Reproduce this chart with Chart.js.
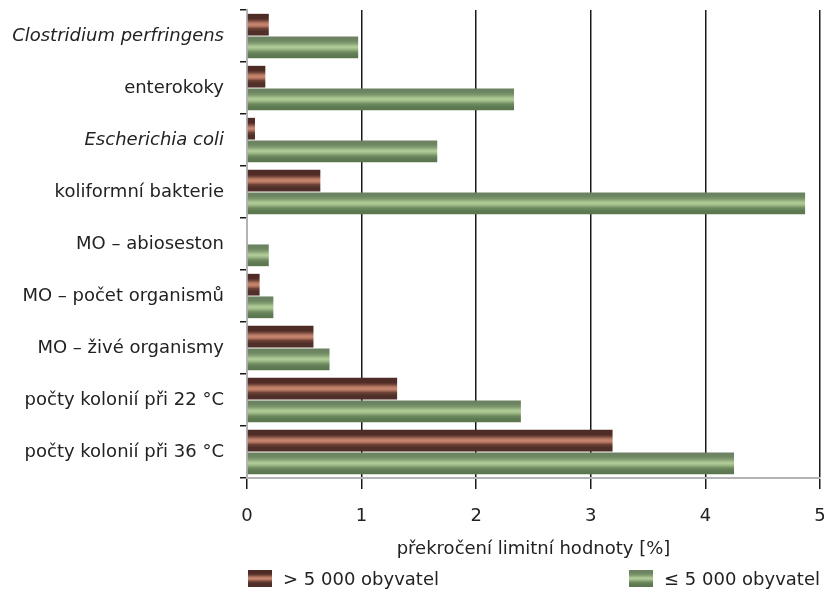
<!DOCTYPE html>
<html lang="cs">
<head>
<meta charset="utf-8">
<title>Překročení limitní hodnoty</title>
<script src="https://cdn.jsdelivr.net/npm/chart.js@4"></script>
<style>
  html, body { margin: 0; padding: 0; background: #fff; }
  #graf { position: relative; width: 824px; height: 589px; }
  #platno { display: block; }
  .polozka { position: absolute; top: 568px; display: flex; align-items: center;
             font: 18px "DejaVu Sans", sans-serif; color: #222; white-space: nowrap; }
  .vzorek { width: 24px; height: 17px; margin-right: 11px; }
</style>
</head>
<body>
<div id="graf">
  <canvas id="platno" width="824" height="589"></canvas>
  <div id="legenda"></div>
</div>
<script>
// ukazatele a podíl vzorků nad limitem [%]
const ukazatele = [
    "Clostridium perfringens",
    "enterokoky",
    "Escherichia coli",
    "koliformní bakterie",
    "MO – abioseston",
    "MO – počet organismů",
    "MO – živé organismy",
    "počty kolonií při 22 °C",
    "počty kolonií při 36 °C"
];
const kurzivou = ["Clostridium perfringens", "Escherichia coli"];
const nadPetTisic = [0.19, 0.16, 0.07, 0.64, 0, 0.11, 0.58, 1.31, 3.19];
const doPetTisic = [0.97, 2.33, 1.66, 4.87, 0.19, 0.23, 0.72, 2.39, 4.25];
const hodnotyOsy = [0, 1, 2, 3, 4, 5];
const nazvyRad = ["> 5 000 obyvatel", "≤ 5 000 obyvatel"];
const popisOsy = "překročení limitní hodnoty [%]";

// pruhované výplně sloupců (shora dolů)
const hneda = [[0, "#4d2a23"], [0.22, "#4f2d26"], [0.32, "#7a4b3e"], [0.42, "#b87a66"],
    [0.5, "#c8876f"], [0.58, "#b0725f"], [0.68, "#6c4236"], [0.8, "#52302a"], [1, "#4e2e27"]];
const zelena = [[0, "#6b8160"], [0.18, "#6e8663"], [0.3, "#7e9a6d"], [0.42, "#a3bf8c"],
    [0.5, "#b3cc9a"], [0.6, "#98b482"], [0.72, "#6d8a60"], [0.85, "#5e7a52"], [1, "#5b7650"]];

const PODIL_KATEGORIE = 0.87;
const PODIL_SLOUPCE = 0.96;
const PISMO = "'DejaVu Sans', sans-serif";

function pruhy(barvy) {
    return function (ctx) {
        const graf = ctx.chart;
        const osaY = graf.scales.y;
        if (ctx.type !== "data" || !osaY || osaY.bottom === undefined) {
            return barvy[4][1];
        }
        const pasmo = (osaY.bottom - osaY.top) / ukazatele.length;
        const slot = pasmo * PODIL_KATEGORIE / 2;
        const stred = osaY.getPixelForValue(ctx.dataIndex) + (ctx.datasetIndex - 0.5) * slot;
        const pul = slot * PODIL_SLOUPCE / 2;
        const g = graf.ctx.createLinearGradient(0, stred - pul, 0, stred + pul);
        barvy.forEach(([k, c]) => g.addColorStop(k, c));
        return g;
    };
}

new Chart(document.getElementById("platno"), {
    type: "bar",
    data: {
        labels: ukazatele,
        datasets: [
            { label: nazvyRad[0], data: nadPetTisic, backgroundColor: pruhy(hneda) },
            { label: nazvyRad[1], data: doPetTisic, backgroundColor: pruhy(zelena) }
        ]
    },
    options: {
        indexAxis: "y",
        responsive: false,
        animation: false,
        categoryPercentage: PODIL_KATEGORIE,
        barPercentage: PODIL_SLOUPCE,
        borderWidth: 0,
        layout: { padding: { top: 10, left: 0, right: 4, bottom: 0 } },
        plugins: { legend: { display: false }, tooltip: { enabled: false } },
        scales: {
            x: {
                min: hodnotyOsy[0],
                max: hodnotyOsy[hodnotyOsy.length - 1],
                afterBuildTicks: osa => { osa.ticks = hodnotyOsy.map(v => ({ value: v })); },
                ticks: { color: "#222", font: { family: PISMO, size: 18 }, padding: 17 },
                grid: { color: "#1a1a1a", lineWidth: 1.5, tickLength: 11 },
                border: { color: "#b4b4b4", width: 2 },
                title: {
                    display: true, text: popisOsy, color: "#222",
                    font: { family: PISMO, size: 18 }, padding: { top: 0, bottom: 29 }
                },
                afterFit: osa => {
                    osa.height = 111;
                    osa.paddingLeft = 0;
                    osa.paddingRight = 0;
                }
            },
            y: {
                ticks: {
                    color: "#222", padding: 16,
                    font: ctx => ({
                        family: PISMO, size: 18,
                        style: kurzivou.includes(ukazatele[ctx.index]) ? "italic" : "normal"
                    })
                },
                grid: { drawOnChartArea: false, color: "#1a1a1a", lineWidth: 1.5, tickLength: 7 },
                border: { color: "#b4b4b4", width: 2 },
                afterFit: osa => {
                    osa.width = 247;
                    osa.paddingTop = 0;
                    osa.paddingBottom = 0;
                }
            }
        }
    }
});

// legenda: první položka vlevo, druhá u pravého okraje
const legenda = document.getElementById("legenda");
[[nazvyRad[0], hneda, "left: 248px"], [nazvyRad[1], zelena, "right: 4px"]].forEach(([text, barvy, misto]) => {
    const polozka = document.createElement("div");
    polozka.className = "polozka";
    polozka.style.cssText = misto;
    const vzorek = document.createElement("div");
    vzorek.className = "vzorek";
    vzorek.style.background = "linear-gradient(to bottom, " +
        barvy.map(([k, c]) => `${c} ${k * 100}%`).join(", ") + ")";
    const popis = document.createElement("span");
    popis.textContent = text;
    polozka.append(vzorek, popis);
    legenda.appendChild(polozka);
});
</script>
</body>
</html>
